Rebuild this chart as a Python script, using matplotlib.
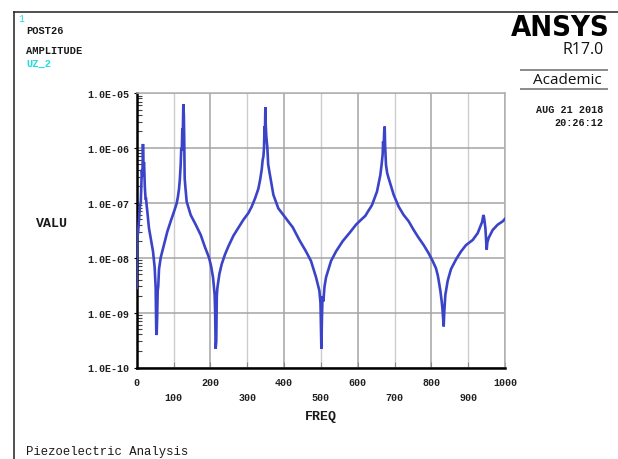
import matplotlib
matplotlib.use("Agg")
import matplotlib.pyplot as plt
from matplotlib.lines import Line2D
from matplotlib.ticker import FixedLocator, LogLocator, NullFormatter

# Frequency response of UZ at node 2 (amplitude vs frequency)
freq = [0, 1.5, 4, 7, 9, 11, 12.6, 14, 15.5, 17, 18.5, 20, 22, 24, 25.3, 27, 28.9,
        33.2, 37.9, 44.3, 48.8, 51.5, 53, 54.2, 55.5, 57, 58.5, 60.6, 65.1, 74.2,
        83.2, 92.3, 101.3, 108.6, 112, 114.9, 117, 119.4, 121, 122.5, 123.9, 125,
        126.6, 128, 129, 130.3, 132, 135.7, 146.6, 160.2, 173.8, 184.7, 196.4,
        202, 207.2, 211.7, 213, 214.4, 216, 217.5, 219, 224.4, 230.7, 239.8, 248.8,
        262.4, 276, 289.6, 303.2, 312.2, 321.3, 330.3, 335, 339.4, 342, 344, 345.7,
        347, 348, 349.3, 350.5, 352, 354.8, 357, 360.2, 371.1, 384.6, 400, 414.5,
        423.5, 441.6, 459.7, 473.3, 486.9, 496, 499, 501.4, 503, 504.5, 506.8, 510,
        514.1, 527.6, 541.2, 559.3, 577.4, 595.5, 609.1, 620.9, 625.3, 638.9,
        652.4, 661.5, 665, 667.8, 669, 670.5, 672, 673.3, 674.5, 676.9, 680, 684.1,
        697.7, 711.3, 724.9, 738.5, 752, 765.6, 779.2, 792.8, 803.6, 812.7, 818,
        824.5, 828.1, 830, 833.5, 835, 838, 844.4, 853.4, 867, 880.6, 894.2, 912.3,
        925.9, 934.9, 938, 941.3, 943, 946.7, 949, 950.3, 952, 955.7, 966.6, 980.2,
        993.8, 1000]
amplitude = [2.8e-9, 2.2e-8, 3.0e-8, 6.0e-8, 9.0e-8, 1.0e-7, 2.1e-7, 4.0e-7, 3.0e-7,
             1.18e-6, 5.0e-7, 5.5e-7, 2.0e-7, 1.2e-7, 1.2e-7, 9.0e-8, 6.9e-8,
             3.5e-8, 2.3e-8, 1.3e-8, 6.6e-9, 2.8e-9, 5.0e-10, 3.9e-10, 8.0e-10,
             2.5e-9, 3.0e-9, 6.2e-9, 1.0e-8, 1.75e-8, 3.0e-8, 4.6e-8, 6.9e-8,
             9.8e-8, 1.3e-7, 1.8e-7, 2.6e-7, 4.9e-7, 1.0e-6, 9.0e-7, 2.3e-6, 1.5e-6,
             6.3e-6, 4.0e-6, 1.5e-6, 2.8e-7, 2.0e-7, 1.05e-7, 6.0e-8, 4.0e-8,
             2.6e-8, 1.6e-8, 1.0e-8, 7.0e-9, 4.4e-9, 2.1e-9, 1.0e-9, 2.2e-10,
             3.0e-10, 2.0e-9, 2.8e-9, 5.0e-9, 7.6e-9, 1.15e-8, 1.6e-8, 2.5e-8,
             3.5e-8, 4.9e-8, 6.5e-8, 8.5e-8, 1.2e-7, 1.8e-7, 2.6e-7, 4.0e-7, 6.0e-7,
             7.0e-7, 1.0e-6, 2.5e-6, 1.5e-6, 5.5e-6, 2.5e-6, 1.6e-6, 1.0e-6, 5.0e-7,
             3.7e-7, 1.4e-7, 7.9e-8, 5.8e-8, 4.3e-8, 3.6e-8, 2.1e-8, 1.3e-8, 8.7e-9,
             4.4e-9, 2.5e-9, 1.5e-9, 2.2e-10, 8.0e-10, 2.0e-9, 1.6e-9, 3.0e-9,
             4.4e-9, 8.7e-9, 1.3e-8, 2.0e-8, 2.8e-8, 4.0e-8, 4.9e-8, 5.8e-8,
             6.5e-8, 9.1e-8, 1.6e-7, 3.2e-7, 5.0e-7, 7.6e-7, 1.3e-6, 1.0e-6, 2.0e-6,
             2.45e-6, 1.1e-6, 4.9e-7, 3.5e-7, 2.8e-7, 1.4e-7, 8.5e-8, 6.0e-8,
             4.6e-8, 3.2e-8, 2.3e-8, 1.7e-8, 1.2e-8, 8.7e-9, 6.4e-9, 4.6e-9,
             2.5e-9, 1.6e-9, 1.2e-9, 5.6e-10, 1.0e-9, 2.1e-9, 3.8e-9, 6.2e-9,
             9.3e-9, 1.3e-8, 1.7e-8, 2.1e-8, 2.8e-8, 4.0e-8, 4.5e-8, 6.0e-8,
             5.5e-8, 3.5e-8, 2.0e-8, 1.4e-8, 1.9e-8, 2.3e-8, 3.2e-8, 4.0e-8,
             4.6e-8, 5.1e-8]

x_major = [0, 200, 400, 600, 800, 1000]
x_minor = [100, 300, 500, 700, 900]
y_decades = [1e-10, 1e-9, 1e-8, 1e-7, 1e-6, 1e-5]
y_labels = ["1.0E-10", "1.0E-09", "1.0E-08", "1.0E-07", "1.0E-06", "1.0E-05"]

W, H = 618, 460
fig = plt.figure(figsize=(W / 100, H / 100), dpi=100)
fig.patch.set_facecolor("white")

mono = ["Liberation Mono", "DejaVu Sans Mono"]


def px(x, y):
    return x / W, 1 - y / H


ax = fig.add_axes([136.7 / W, 1 - 368.5 / H, (505 - 136.7) / W, (368.5 - 94) / H])
ax.plot(freq, amplitude, color="#3b44c8", lw=1.9, solid_joinstyle="miter", zorder=3)
ax.set_yscale("log")
ax.set_xlim(0, 1000)
ax.set_ylim(1e-10, 1e-5)

ax.xaxis.set_major_locator(FixedLocator(x_major))
ax.xaxis.set_minor_locator(FixedLocator(x_minor))
ax.set_xticklabels([str(v) for v in x_major])
ax.set_xticklabels([str(v) for v in x_minor], minor=True)
ax.yaxis.set_major_locator(FixedLocator(y_decades))
ax.set_yticklabels(y_labels)
ax.yaxis.set_minor_locator(LogLocator(base=10, subs=range(2, 10)))
ax.yaxis.set_minor_formatter(NullFormatter())

for lab in ax.get_xticklabels() + ax.get_xticklabels(minor=True) + ax.get_yticklabels():
    lab.set_fontfamily(mono)
    lab.set_fontsize(7.2)
    lab.set_fontweight("bold")
    lab.set_color("#202020")

ax.tick_params(axis="x", which="major", direction="in", length=4, width=0.8,
               color="#888888", pad=7)
ax.tick_params(axis="x", which="minor", direction="in", length=4, width=0.8,
               color="#888888", pad=18)
ax.tick_params(axis="y", which="major", direction="out", length=2, width=0.8, pad=3)
ax.tick_params(axis="y", which="minor", direction="in", length=3.5, width=0.8,
               color="#444444")

ax.grid(which="major", axis="both", color="#a4a4a4", lw=1.1)
ax.grid(which="minor", axis="x", color="#cccccc", lw=1.0)
ax.set_axisbelow(True)

for side in ("left", "bottom"):
    ax.spines[side].set_color("black")
    ax.spines[side].set_linewidth(1.8)
for side in ("top", "right"):
    ax.spines[side].set_color("#b0b0b0")
    ax.spines[side].set_linewidth(1.1)

# Page frame
fig.add_artist(Line2D([13.5 / W, 13.5 / W], [0, 1 - 12.5 / H],
                      transform=fig.transFigure, color="#222222", lw=1.1))
fig.add_artist(Line2D([13.5 / W, 1], [1 - 12.5 / H, 1 - 12.5 / H],
                      transform=fig.transFigure, color="#222222", lw=1.1))

# Header labels
fig.text(*px(18, 19), "1", color="#22dddd", fontsize=7, family=mono, va="center")
fig.text(*px(26, 31), "POST26", color="#1a1a1a", fontsize=7.5, family=mono,
         weight="bold", va="center")
fig.text(*px(26, 51), "AMPLITUDE", color="#1a1a1a", fontsize=7.5, family=mono,
         weight="bold", va="center")
fig.text(*px(26, 64), "UZ_2", color="#22dddd", fontsize=7.5, family=mono,
         weight="bold", va="center")

# Branding block
fig.text(*px(610, 27.5), "ANSYS", fontsize=21, weight="bold", color="black",
         family=["DejaVu Sans"], fontstretch="condensed",
         ha="right", va="center")
fig.text(*px(604, 49.5), "R17.0", fontsize=11.5, color="#111111",
         family=["Open Sans", "DejaVu Sans"], ha="right", va="center")
for yy in (71, 90):
    fig.add_artist(Line2D([521 / W, 607 / W], [1 - yy / H, 1 - yy / H],
                          transform=fig.transFigure, color="#8a8a8a", lw=1.4))
fig.text(*px(567, 81), "Academic", fontsize=11, color="#111111",
         family=["Open Sans", "DejaVu Sans"], ha="center", va="center")
fig.text(*px(603, 110), "AUG 21 2018", fontsize=7.3, family=mono, weight="bold",
         color="#1a1a1a", ha="right", va="center")
fig.text(*px(603, 123), "20:26:12", fontsize=7.3, family=mono, weight="bold",
         color="#1a1a1a", ha="right", va="center")

# Axis titles
fig.text(*px(52, 224), "VALU", fontsize=9.5, family=mono, weight="bold",
         color="#1a1a1a", ha="center", va="center")
fig.text(*px(321, 417), "FREQ", fontsize=9.5, family=mono, weight="bold",
         color="#1a1a1a", ha="center", va="center")

fig.text(*px(26, 452), "Piezoelectric Analysis", fontsize=8.8, family=mono,
         color="#1a1a1a", va="center")

fig.savefig("out.png", dpi=100, facecolor="white")
